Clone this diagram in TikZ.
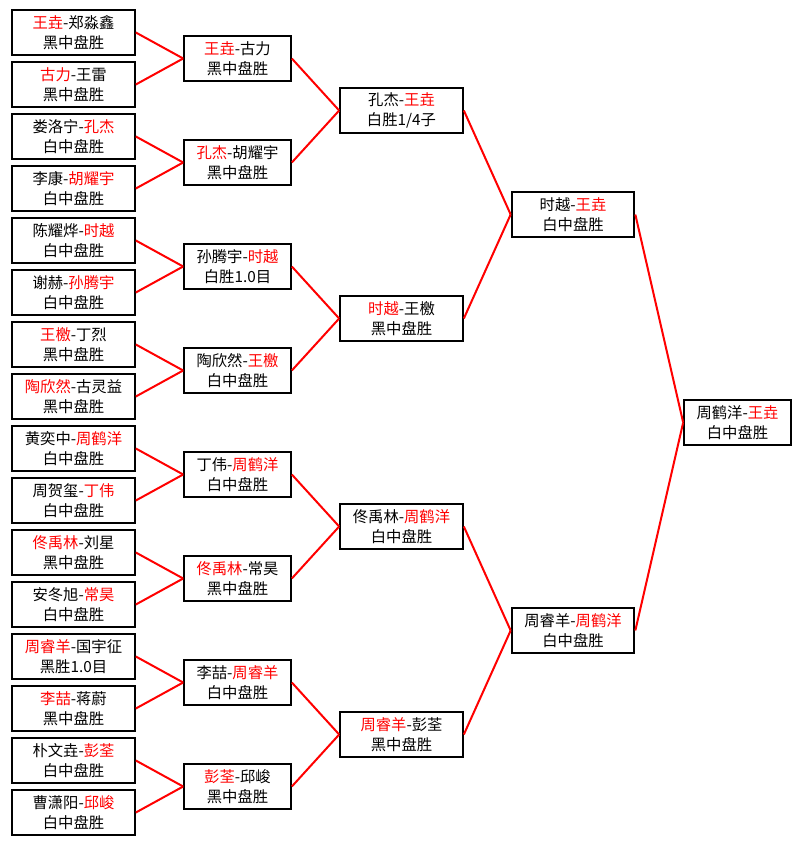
\documentclass[tikz,border=0pt]{standalone}
\usepackage{fontspec}
\setmainfont{Noto Sans CJK SC}
\usetikzlibrary{positioning}
\newcommand{\win}[1]{\textcolor{red}{#1}}

\begin{document}
\begin{tikzpicture}[
  x=0.75pt, y=-0.75pt,
  match/.style={draw, line width=1.5pt, fill=white, align=center, inner sep=0pt, minimum height=33.75pt, font=\fontsize{11.5}{15}\selectfont},
  wide/.style={match, minimum width=92pt},
  narrow/.style={match, minimum width=80pt},
  link/.style={red, line width=1.5pt}
]
  \useasboundingbox (0,0) rectangle (801,845);
  \fill[white] (0,0) rectangle (801,845);

  % Round 1 (left column)
  \node[wide] (a1) at (73.5, 32.5) {\win{王垚}-郑淼鑫\\黑中盘胜};
  \node[wide] (a2) at (73.5, 84.5) {\win{古力}-王雷\\黑中盘胜};
  \node[wide] (a3) at (73.5, 136.5) {娄洛宁-\win{孔杰}\\白中盘胜};
  \node[wide] (a4) at (73.5, 188.5) {李康-\win{胡耀宇}\\白中盘胜};
  \node[wide] (a5) at (73.5, 240.5) {陈耀烨-\win{时越}\\白中盘胜};
  \node[wide] (a6) at (73.5, 292.5) {谢赫-\win{孙腾宇}\\白中盘胜};
  \node[wide] (a7) at (73.5, 344.5) {\win{王檄}-丁烈\\黑中盘胜};
  \node[wide] (a8) at (73.5, 396.5) {\win{陶欣然}-古灵益\\黑中盘胜};
  \node[wide] (a9) at (73.5, 448.5) {黄奕中-\win{周鹤洋}\\白中盘胜};
  \node[wide] (a10) at (73.5, 500.5) {周贺玺-\win{丁伟}\\白中盘胜};
  \node[wide] (a11) at (73.5, 552.5) {\win{佟禹林}-刘星\\黑中盘胜};
  \node[wide] (a12) at (73.5, 604.5) {安冬旭-\win{常昊}\\白中盘胜};
  \node[wide] (a13) at (73.5, 656.5) {\win{周睿羊}-国宇征\\黑胜1.0目};
  \node[wide] (a14) at (73.5, 708.5) {\win{李喆}-蒋蔚\\黑中盘胜};
  \node[wide] (a15) at (73.5, 760.5) {朴文垚-\win{彭荃}\\白中盘胜};
  \node[wide] (a16) at (73.5, 812.5) {曹潇阳-\win{邱峻}\\白中盘胜};

  % Round 2
  \node[narrow] (b1) at (237.5, 58.5) {\win{王垚}-古力\\黑中盘胜};
  \node[narrow] (b2) at (237.5, 162.5) {\win{孔杰}-胡耀宇\\黑中盘胜};
  \node[narrow] (b3) at (237.5, 266.5) {孙腾宇-\win{时越}\\白胜1.0目};
  \node[narrow] (b4) at (237.5, 370.5) {陶欣然-\win{王檄}\\白中盘胜};
  \node[narrow] (b5) at (237.5, 474.5) {丁伟-\win{周鹤洋}\\白中盘胜};
  \node[narrow] (b6) at (237.5, 578.5) {\win{佟禹林}-常昊\\黑中盘胜};
  \node[narrow] (b7) at (237.5, 682.5) {李喆-\win{周睿羊}\\白中盘胜};
  \node[narrow] (b8) at (237.5, 786.5) {\win{彭荃}-邱峻\\黑中盘胜};

  % Quarter finals
  \node[wide] (c1) at (401.5, 110.5) {孔杰-\win{王垚}\\白胜1/4子};
  \node[wide] (c2) at (401.5, 318.5) {\win{时越}-王檄\\黑中盘胜};
  \node[wide] (c3) at (401.5, 526.5) {佟禹林-\win{周鹤洋}\\白中盘胜};
  \node[wide] (c4) at (401.5, 734.5) {\win{周睿羊}-彭荃\\黑中盘胜};

  % Semi finals
  \node[wide] (d1) at (573, 214.5) {时越-\win{王垚}\\白中盘胜};
  \node[wide] (d2) at (573, 630.5) {周睿羊-\win{周鹤洋}\\白中盘胜};

  % Final
  \node[narrow] (final) at (737.5, 422.5) {周鹤洋-\win{王垚}\\白中盘胜};

  % Links
  \draw[link] (a1.east) -- (b1.west);
  \draw[link] (a2.east) -- (b1.west);
  \draw[link] (a3.east) -- (b2.west);
  \draw[link] (a4.east) -- (b2.west);
  \draw[link] (a5.east) -- (b3.west);
  \draw[link] (a6.east) -- (b3.west);
  \draw[link] (a7.east) -- (b4.west);
  \draw[link] (a8.east) -- (b4.west);
  \draw[link] (a9.east) -- (b5.west);
  \draw[link] (a10.east) -- (b5.west);
  \draw[link] (a11.east) -- (b6.west);
  \draw[link] (a12.east) -- (b6.west);
  \draw[link] (a13.east) -- (b7.west);
  \draw[link] (a14.east) -- (b7.west);
  \draw[link] (a15.east) -- (b8.west);
  \draw[link] (a16.east) -- (b8.west);

  \draw[link] (b1.east) -- (c1.west);
  \draw[link] (b2.east) -- (c1.west);
  \draw[link] (b3.east) -- (c2.west);
  \draw[link] (b4.east) -- (c2.west);
  \draw[link] (b5.east) -- (c3.west);
  \draw[link] (b6.east) -- (c3.west);
  \draw[link] (b7.east) -- (c4.west);
  \draw[link] (b8.east) -- (c4.west);

  \draw[link] (c1.east) -- (d1.west);
  \draw[link] (c2.east) -- (d1.west);
  \draw[link] (c3.east) -- (d2.west);
  \draw[link] (c4.east) -- (d2.west);

  \draw[link] (d1.east) -- (final.west);
  \draw[link] (d2.east) -- (final.west);
\end{tikzpicture}
\end{document}
